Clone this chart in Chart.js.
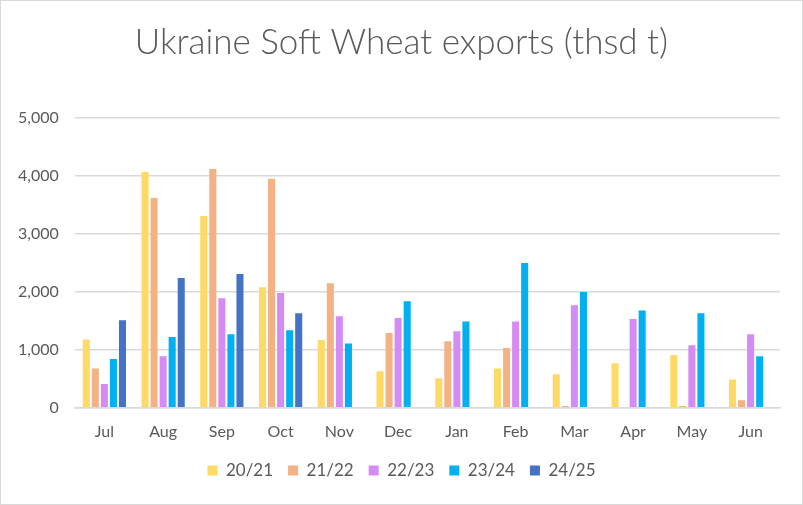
<!DOCTYPE html>
<html lang="en">
<head>
  <meta charset="UTF-8" />
  <title>Ukraine Soft Wheat exports</title>
  <script src="https://cdn.jsdelivr.net/npm/chart.js"></script>
  <style>
    body {
      margin: 0;
      padding: 0;
      background: #fff;
    }
    .frame {
      position: relative;
      width: 803px;
      height: 505px;
    }
    .frame::after {
      content: "";
      position: absolute;
      left: 0; top: 0;
      width: 801px; height: 503px;
      border: 1px solid #d9d9d9;
      pointer-events: none;
    }
  </style>
</head>
<body>
  <div class="frame">
    <canvas id="wheatChart" width="803" height="505"></canvas>
  </div>

  <script>
    const months = ['Jul', 'Aug', 'Sep', 'Oct', 'Nov', 'Dec', 'Jan', 'Feb', 'Mar', 'Apr', 'May', 'Jun'];

    const s2021 = [1180, 4070, 3310, 2080, 1170, 630, 510, 680, 580, 770, 910, 490];
    const s2122 = [680, 3620, 4120, 3950, 2150, 1290, 1150, 1030, 30, null, 30, 130];
    const s2223 = [410, 890, 1890, 1980, 1580, 1550, 1320, 1490, 1770, 1530, 1080, 1270];
    const s2324 = [840, 1220, 1270, 1340, 1110, 1840, 1490, 2500, 2000, 1680, 1630, 890];
    const s2425 = [1510, 2240, 2310, 1630, null, null, null, null, null, null, null, null];

    const seasons = ['20/21', '21/22', '22/23', '23/24', '24/25'];
    const colors = ['#FFD966', '#F4B183', '#D48CF4', '#00B0F0', '#4472C4'];
    const yTicks = [0, 1000, 2000, 3000, 4000, 5000];

    const font = "Lato, 'Open Sans', sans-serif";
    const grey = '#595959';

    const ctx = document.getElementById('wheatChart').getContext('2d');
    new Chart(ctx, {
      type: 'bar',
      data: {
        labels: months,
        datasets: [s2021, s2122, s2223, s2324, s2425].map((vals, i) => ({
          label: seasons[i],
          data: vals,
          backgroundColor: colors[i],
          categoryPercentage: 0.77,
          barPercentage: 0.78
        }))
      },
      options: {
        responsive: false,
        animation: false,
        layout: { padding: { left: 23, right: 23, top: 0, bottom: 16 } },
        plugins: {
          title: {
            display: true,
            text: 'Ukraine Soft Wheat exports (thsd t)',
            color: grey,
            font: { family: font, size: 35, weight: '300' },
            padding: { top: 22, bottom: 54 }
          },
          legend: {
            position: 'bottom',
            labels: {
              color: grey,
              font: { family: font, size: 17 },
              boxWidth: 10,
              boxHeight: 10,
              padding: 15
            }
          },
          tooltip: { enabled: false }
        },
        scales: {
          x: {
            grid: { display: false },
            border: { color: '#d9d9d9', width: 1.5 },
            ticks: { color: grey, font: { family: font, size: 16 }, padding: 6 }
          },
          y: {
            min: 0,
            max: 5000,
            afterFit: (scale) => { scale.width = 52; },
            afterBuildTicks: (scale) => { scale.ticks = yTicks.map(v => ({ value: v })); },
            border: { display: false },
            grid: { color: '#d9d9d9', lineWidth: 1.5, drawTicks: false },
            ticks: {
              color: grey,
              font: { family: font, size: 16 },
              // mirrored so the labels are not clipped to the narrow axis box
              mirror: true,
              crossAlign: 'far',
              padding: -57,
              callback: (v) => v.toLocaleString('en-US')
            }
          }
        }
      }
    });
  </script>
</body>
</html>
